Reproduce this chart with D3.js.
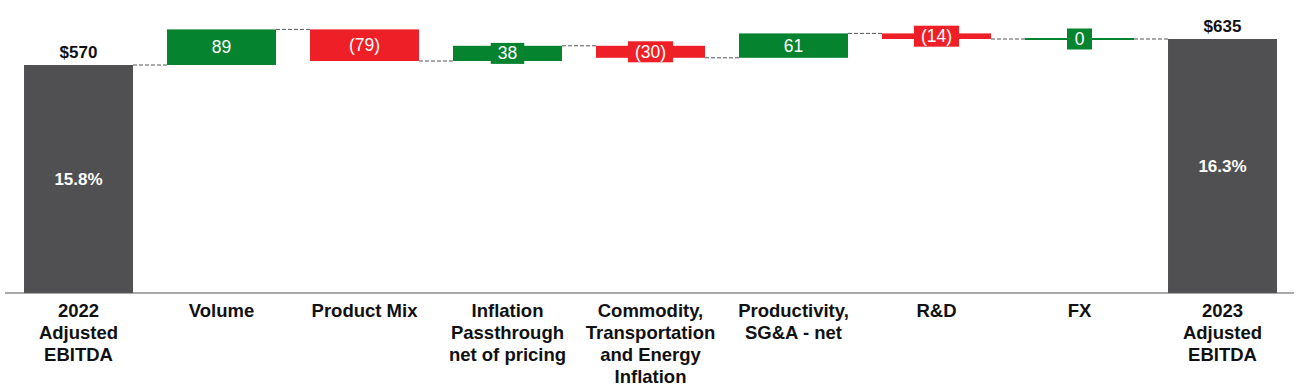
<!DOCTYPE html>
<html>
<head>
<meta charset="utf-8">
<script src="https://cdn.jsdelivr.net/npm/d3@7"></script>
<style>
  html, body { margin: 0; padding: 0; background: #ffffff; }
  svg { display: block; font-family: "Liberation Sans", Arial, sans-serif; }
</style>
</head>
<body>
<svg id="chart" width="1304" height="390"></svg>
<script>
// ---- data ----
const categories = [
  ["2022", "Adjusted", "EBITDA"],
  ["Volume"],
  ["Product Mix"],
  ["Inflation", "Passthrough", "net of pricing"],
  ["Commodity,", "Transportation", "and Energy", "Inflation"],
  ["Productivity,", "SG&A - net"],
  ["R&D"],
  ["FX"],
  ["2023", "Adjusted", "EBITDA"]
];
const startTotal = 570;
const endTotal = 635;
const changes = [89, -79, 38, -30, 61, -14, 0];
const margins = ["15.8%", "16.3%"];

// ---- build waterfall rows ----
const rows = [];
rows.push({ i: 0, kind: "total", y0: 0, y1: startTotal, label: "$" + startTotal, inner: margins[0] });
let cum = startTotal;
changes.forEach((c, k) => {
  rows.push({ i: k + 1, kind: c >= 0 ? "up" : "down", y0: cum, y1: cum + c,
              label: c < 0 ? "(" + Math.abs(c) + ")" : String(c) });
  cum += c;
});
rows.push({ i: categories.length - 1, kind: "total", y0: 0, y1: endTotal, label: "$" + endTotal, inner: margins[1] });

const colors = { total: "#505052", up: "#06832f", down: "#ee1f26" };

const svg = d3.select("#chart");
const x = d3.scaleBand().domain(d3.range(categories.length)).range([7, 1294])
  .paddingInner(0.238).paddingOuter(0.119);
const y = d3.scaleLinear().domain([0, 700]).range([293, 13]);

// connectors
for (let k = 0; k < rows.length - 1; k++) {
  const a = rows[k], b = rows[k + 1];
  svg.append("line")
    .attr("x1", x(a.i) + x.bandwidth()).attr("x2", x(b.i))
    .attr("y1", y(a.y1)).attr("y2", y(a.y1))
    .attr("stroke", "#555").attr("stroke-width", 1).attr("stroke-dasharray", "4,2");
}

// bars
svg.selectAll("rect.bar").data(rows).join("rect")
  .attr("class", "bar")
  .attr("x", d => x(d.i))
  .attr("width", x.bandwidth())
  .attr("y", d => Math.min(y(d.y0), y(d.y1)) - (d.y0 === d.y1 ? 1 : 0))
  .attr("height", d => Math.max(2, Math.abs(y(d.y0) - y(d.y1))))
  .attr("fill", d => colors[d.kind]);

// axis line
svg.append("line").attr("x1", 5).attr("x2", 1294).attr("y1", y(0)).attr("y2", y(0))
  .attr("stroke", "#555").attr("stroke-width", 1.2);

// total labels
rows.filter(d => d.kind === "total").forEach(d => {
  const cx = x(d.i) + x.bandwidth() / 2;
  svg.append("text").attr("x", cx).attr("y", y(d.y1) - 7)
    .attr("text-anchor", "middle").attr("font-size", 17).attr("font-weight", "bold")
    .attr("fill", "#111").text(d.label);
  svg.append("text").attr("x", cx).attr("y", (y(0) + y(d.y1)) / 2 + 6)
    .attr("text-anchor", "middle").attr("font-size", 17).attr("font-weight", "bold")
    .attr("fill", "#fff").text(d.inner);
});

// delta labels
rows.filter(d => d.kind !== "total").forEach(d => {
  const cx = x(d.i) + x.bandwidth() / 2;
  const top = Math.min(y(d.y0), y(d.y1));
  const h = Math.abs(y(d.y0) - y(d.y1));
  const cy = top + h / 2;
  const g = svg.append("g");
  const t = g.append("text").attr("x", cx).attr("y", cy + 6)
    .attr("text-anchor", "middle").attr("font-size", 17.5)
    .attr("fill", "#fff").text(d.label);
  if (h < 22) {
    const w = t.node().getComputedTextLength();
    const bw = Math.max(25, w + 14);
    g.insert("rect", "text").attr("x", cx - bw / 2).attr("width", bw)
      .attr("y", cy - 10.5).attr("height", 21).attr("fill", colors[d.kind]);
  }
});

// category labels
categories.forEach((lines, i) => {
  const cx = x(i) + x.bandwidth() / 2;
  const t = svg.append("text").attr("text-anchor", "middle")
    .attr("font-size", 18.5).attr("font-weight", "bold").attr("fill", "#111");
  lines.forEach((ln, j) => {
    t.append("tspan").attr("x", cx).attr("y", 317 + j * 22).text(ln);
  });
});
</script>
</body>
</html>
